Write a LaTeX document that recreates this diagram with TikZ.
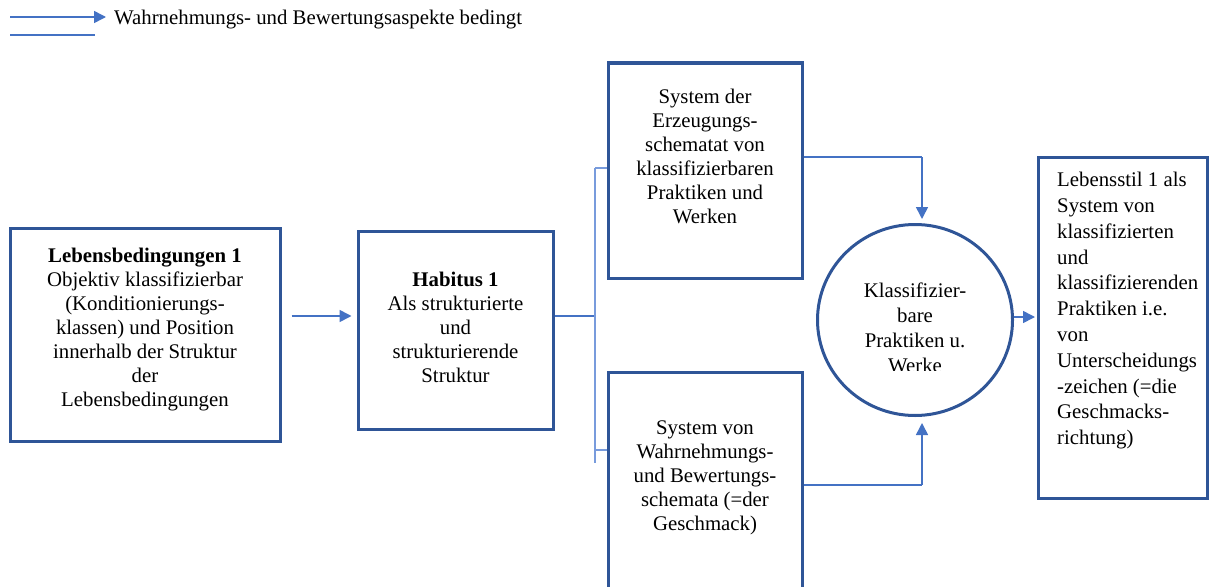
\documentclass[tikz,border=0pt]{standalone}
\usepackage{fontspec}
\setmainfont{Liberation Serif}
\usetikzlibrary{arrows.meta,shapes.geometric}
\definecolor{boxblue}{RGB}{47,85,151}
\definecolor{arrblue}{RGB}{68,114,196}
\definecolor{lightblue}{RGB}{120,155,220}
\begin{document}
\begin{tikzpicture}[x=1pt,y=-1pt,
  every node/.style={font=\fontsize{20.8}{24}\selectfont},
  box/.style={draw=boxblue,line width=3pt,minimum width=#1,inner sep=0pt},
  txt/.style={align=center,inner sep=0pt},
  arr/.style={draw=arrblue,line width=1.6pt,-{Triangle[length=12pt,width=12pt]}},
  conn/.style={draw=arrblue,line width=1.2pt},
  thin/.style={draw=lightblue,line width=1.2pt}]
\useasboundingbox (0,0) rectangle (1209,586);
% legend
\coordinate (la1) at (10,17);
\coordinate (la2) at (106,17);
\coordinate (lb1) at (10,35);
\coordinate (lb2) at (95,35);
\draw[arr] (la1) -- (la2);
\draw[conn] (lb1) -- (lb2);
\node[anchor=west,inner sep=0pt] (legend) at (114,20) {Wahrnehmungs- und Bewertungsaspekte bedingt};
% boxes
\node[box=270pt,minimum height=213pt] (leb) at (145,334.5) {};
\node[txt] (lebt) at (145,330) {\textbf{Lebensbedingungen 1}\\Objektiv klassifizierbar\\(Konditionierungs-\\klassen) und Position\\innerhalb der Struktur\\der\\Lebensbedingungen};
\node[box=195pt,minimum height=198pt] (hab) at (455.5,330) {};
\node[txt] (habt) at (455.5,327) {\textbf{Habitus 1}\\Als strukturierte\\und\\strukturierende\\Struktur};
\node[box=194pt,minimum height=215pt] (top) at (705,170.5) {};
\node[txt] (topt) at (705,156) {System der\\Erzeugungs-\\schematat von\\klassifizierbaren\\Praktiken und\\Werken};
\node[box=194pt,minimum height=220pt] (bot) at (705,482) {};
\node[txt] (bott) at (705,478) {System von\\Wahrnehmungs-\\und Bewertungs-\\schemata (=der\\Geschmack)};
\node[box=169pt,minimum height=341pt] (ls) at (1122.5,327.5) {};
\node[align=left,inner sep=0pt,anchor=north west,font=\fontsize{20.8}{25.8}\selectfont] (lst) at (1057,172) {Lebensstil 1 als\\System von\\klassifizierten\\und\\klassifizierenden\\Praktiken i.e.\\von\\Unterscheidungs\\-zeichen (=die\\Geschmacks-\\richtung)};
% circle
\node[draw=boxblue,line width=3pt,ellipse,minimum width=195pt,minimum height=191pt,inner sep=0pt] (circ) at (915,320) {};
\begin{scope}
\clip (820,260) rectangle (1010,370.5);
\node[txt,anchor=north,font=\fontsize{20.8}{25}\selectfont] (circt) at (915,282.5) {Klassifizier-\\bare\\Praktiken u.\\Werke};
\end{scope}
% connectors
\coordinate (j1) at (595,316);
\coordinate (jtop) at (595,168);
\coordinate (jbot) at (595,463);
\draw[arr] (leb.east |- 0,316) ++(10,0) coordinate (a1) -- ([xshift=-5pt]hab.west |- a1);
\draw[conn] (hab.east |- j1) -- (j1);
\draw[thin] (jtop) -- (jbot);
\draw[thin] (jtop) -- (top.west |- jtop);
\draw[thin] (595,450) coordinate (jb2) -- (bot.west |- jb2);
\coordinate (t1) at (922,157);
\coordinate (b1) at (922,485);
\draw[conn] (top.east |- t1) -- (t1);
\draw[arr] (t1) -- (922,219);
\draw[conn] (bot.east |- b1) -- (b1);
\draw[arr] (b1) -- (922,423);
\draw[arr] (circ.east |- 0,317) -- (1035,317);
\end{tikzpicture}
\end{document}
